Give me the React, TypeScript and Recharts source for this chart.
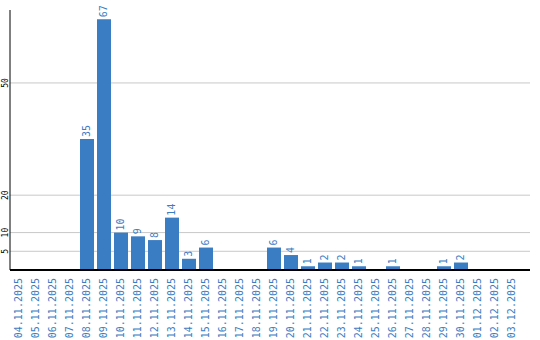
import { BarChart, Bar, XAxis, YAxis, CartesianGrid, LabelList } from "recharts";

const dates = [
  "04.11.2025", "05.11.2025", "06.11.2025", "07.11.2025", "08.11.2025", "09.11.2025",
  "10.11.2025", "11.11.2025", "12.11.2025", "13.11.2025", "14.11.2025", "15.11.2025",
  "16.11.2025", "17.11.2025", "18.11.2025", "19.11.2025", "20.11.2025", "21.11.2025",
  "22.11.2025", "23.11.2025", "24.11.2025", "25.11.2025", "26.11.2025", "27.11.2025",
  "28.11.2025", "29.11.2025", "30.11.2025", "01.12.2025", "02.12.2025", "03.12.2025",
];
const counts = [
  0, 0, 0, 0, 35, 67,
  10, 9, 8, 14, 3, 6,
  0, 0, 0, 6, 4, 1,
  2, 2, 1, 0, 1, 0,
  0, 1, 2, 0, 0, 0,
];
const yTicks = [5, 10, 20, 50];

const BLUE = "#3b7dc3";
const MONO = "'DejaVu Sans Mono', monospace";

const data = dates.map((d, i) => ({ date: d, value: counts[i] }));

const XTick = ({ x, payload }: any) => (
  <text
    x={x}
    y={278}
    transform={`rotate(-90, ${x}, 278)`}
    textAnchor="end"
    dy="0.35em"
    fill={BLUE}
    fontSize={10}
    fontFamily={MONO}
  >
    {payload.value}
  </text>
);

const YTick = ({ y, payload }: any) => (
  <text
    x={5}
    y={y}
    transform={`rotate(-90, 5, ${y})`}
    textAnchor="middle"
    dy="0.35em"
    fill="#000"
    fontSize={8}
    fontFamily={MONO}
  >
    {payload.value}
  </text>
);

const ValueLabel = ({ x, y, width, value }: any) => {
  if (!value) return null;
  const cx = x + width / 2;
  const ty = y - 2;
  return (
    <text
      x={cx}
      y={ty}
      transform={`rotate(-90, ${cx}, ${ty})`}
      textAnchor="start"
      dy="0.35em"
      fill={BLUE}
      fontSize={10}
      fontFamily={MONO}
    >
      {value}
    </text>
  );
};

export default function App() {
  return (
    <div style={{ position: "absolute", left: 0, top: 0, background: "#fff" }}>
      <BarChart
        width={540}
        height={340}
        data={data}
        margin={{ top: 10, right: 10, left: 0, bottom: 0 }}
        barSize={14}
      >
        <CartesianGrid
          horizontal
          vertical={false}
          horizontalValues={yTicks}
          stroke="#c8c8c8"
          strokeWidth={1}
        />
        <XAxis
          dataKey="date"
          interval={0}
          height={70}
          tickLine={false}
          axisLine={{ stroke: "#000", strokeWidth: 2 }}
          tick={<XTick />}
          padding={{ left: 0, right: 10 }}
        />
        <YAxis
          width={10}
          domain={[0, 69.5]}
          ticks={yTicks}
          interval={0}
          tickLine={false}
          axisLine={{ stroke: "#000", strokeWidth: 1 }}
          tick={<YTick />}
          allowDataOverflow
        />
        <Bar dataKey="value" fill={BLUE} isAnimationActive={false}>
          <LabelList dataKey="value" content={<ValueLabel />} />
        </Bar>
      </BarChart>
    </div>
  );
}
